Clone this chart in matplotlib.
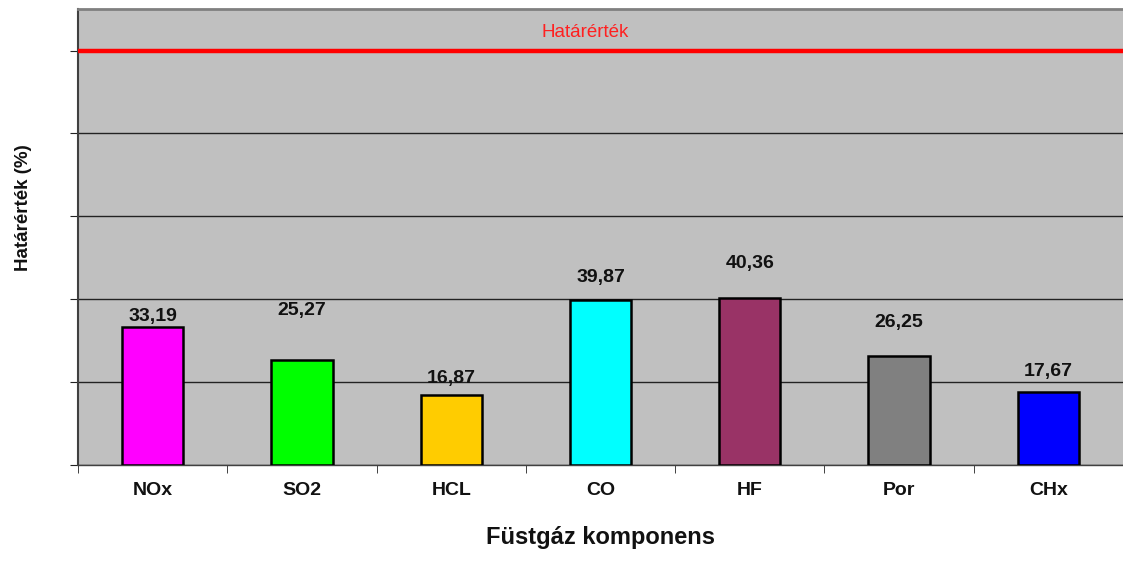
import numpy as np
import matplotlib
matplotlib.use('Agg')
import matplotlib.pyplot as plt

# data
components = ["NOx", "SO2", "HCL", "CO", "HF", "Por", "CHx"]
values = [33.19, 25.27, 16.87, 39.87, 40.36, 26.25, 17.67]
colors = ["#FF00FF", "#00FF00", "#FFCC00", "#00FFFF", "#993366", "#808080", "#0000FF"]
limit = 100

# where the value labels sit (as in the original chart)
label_y = [35.8, 37.3, 20.9, 45.2, 48.6, 34.4, 22.6]

plt.rcParams['font.family'] = ['Liberation Sans', 'DejaVu Sans']

fig = plt.figure(figsize=(11.23, 5.69), dpi=100)
ax = fig.add_axes([0.0695, 0.1828, 0.9305, 0.8012])
ax.set_facecolor("#C0C0C0")

x = np.arange(len(components))
ax.bar(x, values, width=0.41, color=colors, edgecolor="black", linewidth=1.8, zorder=3)

for xi, v, ly in zip(x, values, label_y):
    ax.text(xi, ly, ("%.2f" % v).replace(".", ","), ha="center", va="center",
            fontsize=14, fontweight="bold", color="#111111", zorder=4)

ax.axhline(limit, color="red", linewidth=3.2, zorder=4)
ax.text(2.9, 104.3, "Határérték", color="#FF2020", ha="center", va="center", fontsize=13.5, zorder=4)

ax.set_xlim(-0.5, len(components) - 0.5)
ax.set_ylim(0, 110)
ax.set_yticks(np.arange(0, 101, 20))
ax.set_yticklabels([])
ax.yaxis.grid(True, color="#222222", linewidth=1.0, zorder=1)
ax.tick_params(axis="y", length=6, color="#222222", direction="out")

ax.set_xticks(x)
ax.set_xticklabels(components, fontsize=14, fontweight="bold", color="#111111")
ax.set_xticks(np.arange(-0.5, len(components), 1), minor=True)
ax.tick_params(axis="x", which="major", length=0, pad=12)
ax.tick_params(axis="x", which="minor", length=6, color="#222222")

ax.spines["right"].set_visible(False)
ax.spines["top"].set_color("#808080")
ax.spines["top"].set_linewidth(2)
ax.spines["left"].set_color("#404040")
ax.spines["left"].set_linewidth(1.5)
ax.spines["bottom"].set_color("#404040")
ax.spines["bottom"].set_linewidth(1)

ax.set_xlabel("Füstgáz komponens", fontsize=17, fontweight="bold", labelpad=20, color="#111111")
fig.text(24 / 1123, 1 - 208 / 569, "Határérték (%)", rotation=90, ha="center", va="center",
         fontsize=13.5, fontweight="bold", color="#111111")

plt.savefig("out.png", dpi=100)
